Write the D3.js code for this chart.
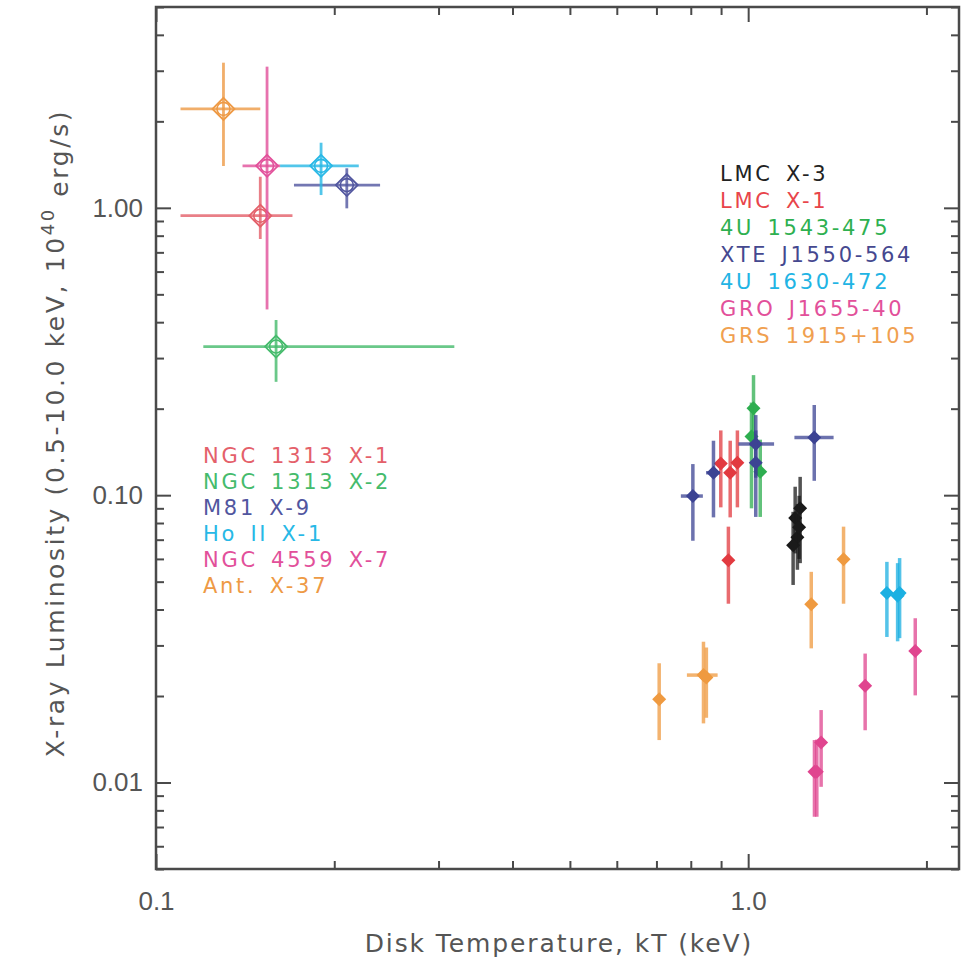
<!DOCTYPE html>
<html>
<head>
<meta charset="utf-8">
<script src="https://cdn.jsdelivr.net/npm/d3@7"></script>
<style>
  body { margin: 0; background: #fff; }
  text { font-family: "DejaVu Sans", sans-serif; }
</style>
</head>
<body>
<svg id="chart" width="963" height="957"></svg>
<script>
// ---- ULX sources (open symbols, upper left) ----
const ulxNames  = ["NGC 1313 X-1", "NGC 1313 X-2", "M81 X-9", "Ho II X-1", "NGC 4559 X-7", "Ant. X-37"];
const ulxColors = ["#e4606a", "#45bb6c", "#51569f", "#27b8e6", "#e2509a", "#ee9a45"];
const ulxKT     = [0.150, 0.1595, 0.210, 0.190, 0.154, 0.130];
const ulxKTlo   = [0.110, 0.1202, 0.171, 0.162, 0.140, 0.110];
const ulxKThi   = [0.170, 0.319, 0.239, 0.220, 0.162, 0.150];
const ulxLum    = [0.939, 0.329, 1.20, 1.40, 1.40, 2.21];
const ulxLumLo  = [0.779, 0.248, 0.996, 1.108, 0.443, 1.398];
const ulxLumHi  = [1.283, 0.407, 1.373, 1.685, 3.10, 3.20];

// ---- Galactic black holes (filled diamonds) ----
const galNames  = ["LMC X-3", "LMC X-1", "4U 1543-475", "XTE J1550-564", "4U 1630-472", "GRO J1655-40", "GRS 1915+105"];
const galColors = ["#1a1a1a", "#e23a40", "#2eae50", "#3c4393", "#1bb0e2", "#e0458f", "#ef9a40"];
const galSrc    = [0,0,0,0,0, 1,1,1,1, 2,2,2, 3,3,3,3,3, 4,4,4, 5,5,5,5,5, 6,6,6,6,6];
const galKT     = [1.224,1.2005,1.211,1.191,1.219, 0.899,0.9325,0.959,0.926, 1.021,1.013,1.048,
                   0.8065,0.8738,1.030,1.030,1.293, 1.715,1.802,1.788, 1.915,1.576,1.328,1.294,1.306,
                   1.278,1.449,0.7075,0.8405,0.850];
const galKTlo   = [1.224,1.2005,1.211,1.191,1.219, 0.899,0.9325,0.959,0.926, 1.021,1.013,1.048,
                   0.7697,0.849,0.963,1.030,1.197, 1.715,1.802,1.788, 1.915,1.576,1.328,1.294,1.306,
                   1.278,1.449,0.7075,0.788,0.850];
const galKThi   = [1.224,1.2005,1.211,1.191,1.219, 0.899,0.9325,0.959,0.926, 1.021,1.013,1.048,
                   0.8385,0.896,1.106,1.030,1.394, 1.715,1.802,1.788, 1.915,1.576,1.328,1.294,1.306,
                   1.278,1.449,0.7075,0.888,0.850];
const galLum    = [0.090,0.0832,0.0714,0.067,0.0774, 0.129,0.1197,0.1297,0.0594, 0.2005,0.160,0.1206,
                   0.0993,0.1197,0.1507,0.1297,0.1589, 0.0457,0.0457,0.0447, 0.0287,0.0217,0.01379,0.0109,0.0109,
                   0.0417,0.0598,0.0195,0.02365,0.0232];
const galLumLo  = [0.058,0.0627,0.055,0.0487,0.060, 0.0907,0.0837,0.0907,0.0419, 0.153,0.090,0.084,
                   0.0694,0.0837,0.115,0.084,0.1122, 0.0321,0.0318,0.031, 0.0201,0.0152,0.00966,0.0076,0.0076,
                   0.0293,0.0419,0.01405,0.01606,0.0168];
const galLumHi  = [0.1158,0.107,0.093,0.0875,0.0995, 0.168,0.1547,0.168,0.0777, 0.2617,0.21,0.156,
                   0.1283,0.1547,0.19,0.168,0.206, 0.0586,0.0604,0.058, 0.0373,0.0281,0.01787,0.01405,0.0141,
                   0.0541,0.0777,0.026,0.0309,0.0295];

// axis ticks
const xMajor = [0.1, 1.0];
const yMajor = [0.01, 0.1, 1];
const xLabels = ["0.1", "1.0"];
const yLabels = ["0.01", "0.10", "1.00"];

const width = 963, height = 957;
const margin = {left: 156, right: 4, top: 7, bottom: 88};

const svg = d3.select("#chart");

const x = d3.scaleLog()
  .domain([0.1, 2.27])
  .range([margin.left, width - margin.right]);
const y = d3.scaleLog()
  .domain([0.005, 5])
  .range([height - margin.bottom, margin.top]);

const x0 = x.range()[0], x1 = x.range()[1];
const y0 = y.range()[0], y1 = y.range()[1];

// minor + major ticks, all pointing inward
const xMinor = x.ticks().filter(t => !xMajor.some(m => Math.abs(m - t) < 1e-9));
const yMinor = y.ticks().filter(t => !yMajor.some(m => Math.abs(m - t) < 1e-9));

function addAxis(axisFn, scale, vals, size, tx, ty, labels) {
  const g = svg.append("g")
    .attr("transform", `translate(${tx},${ty})`)
    .call(axisFn(scale).tickValues(vals).tickSize(-size)
      .tickPadding(axisFn === d3.axisBottom ? 23 : 13)
      .tickFormat((d, i) => labels ? labels[i] : ""));
  g.select(".domain").remove();
  g.selectAll(".tick line").attr("stroke", "#4a4a4a").attr("stroke-width", 2);
  g.selectAll(".tick text")
    .attr("fill", "#555")
    .style("font-family", "'Liberation Sans', Arial, sans-serif")
    .style("font-size", "26px");
  return g;
}
addAxis(d3.axisBottom, x, xMinor, 8, 0, y0);
addAxis(d3.axisBottom, x, xMajor, 15, 0, y0, xLabels);
addAxis(d3.axisTop, x, xMinor, 8, 0, y1);
addAxis(d3.axisTop, x, xMajor, 15, 0, y1);
addAxis(d3.axisLeft, y, yMinor, 8, x0, 0);
addAxis(d3.axisLeft, y, yMajor, 15, x0, 0, yLabels);
addAxis(d3.axisRight, y, yMinor, 8, x1, 0);
addAxis(d3.axisRight, y, yMajor, 15, x1, 0);

// frame
svg.append("rect")
  .attr("x", x0).attr("y", y1)
  .attr("width", x1 - x0).attr("height", y0 - y1)
  .attr("fill", "none")
  .attr("stroke", "#4a4a4a")
  .attr("stroke-width", 2.5);

// axis titles
svg.append("text")
  .attr("x", 559)
  .attr("y", 952)
  .attr("text-anchor", "middle")
  .attr("fill", "#555")
  .style("font-size", "25px")
  .style("letter-spacing", "1.9px")
  .text("Disk Temperature, kT (keV)");

const yt = svg.append("text")
  .attr("transform", "translate(64,433) rotate(-90)")
  .attr("text-anchor", "middle")
  .attr("fill", "#555")
  .style("font-size", "25px")
  .style("letter-spacing", "2.6px");
yt.append("tspan").text("X-ray Luminosity (0.5-10.0 keV, 10");
yt.append("tspan").attr("dy", "-0.55em").style("font-size", "18px").text("40");
yt.append("tspan").attr("dy", "0.55em").text(" erg/s)");

const diamond = s => `M0,${-s}L${s},0L0,${s}L${-s},0Z`;

// ---- galactic sources ----
const gal = galSrc.map((s, i) => ({
  src: s, kt: galKT[i], ktLo: galKTlo[i], ktHi: galKThi[i],
  lum: galLum[i], lumLo: galLumLo[i], lumHi: galLumHi[i]
})).sort((a, b) => a.src - b.src);

const gg = svg.append("g");
gal.forEach(d => {
  const c = galColors[d.src];
  const g = gg.append("g");
  g.append("line")
    .attr("x1", x(d.kt)).attr("x2", x(d.kt))
    .attr("y1", y(d.lumLo)).attr("y2", y(d.lumHi))
    .attr("stroke", c).attr("stroke-width", 3.5).attr("opacity", 0.75);
  if (d.ktHi > d.ktLo) {
    g.append("line")
      .attr("x1", x(d.ktLo)).attr("x2", x(d.ktHi))
      .attr("y1", y(d.lum)).attr("y2", y(d.lum))
      .attr("stroke", c).attr("stroke-width", 3.5).attr("opacity", 0.75);
  }
  g.append("path")
    .attr("transform", `translate(${x(d.kt)},${y(d.lum)})`)
    .attr("d", diamond(7))
    .attr("fill", c);
});

// ---- ULX sources ----
const ulx = ulxNames.map((n, i) => ({
  name: n, color: ulxColors[i], kt: ulxKT[i], ktLo: ulxKTlo[i], ktHi: ulxKThi[i],
  lum: ulxLum[i], lumLo: ulxLumLo[i], lumHi: ulxLumHi[i]
}));

const ug = svg.append("g");
ulx.forEach(d => {
  const g = ug.append("g");
  g.append("line")
    .attr("x1", x(d.ktLo)).attr("x2", x(d.ktHi))
    .attr("y1", y(d.lum)).attr("y2", y(d.lum))
    .attr("stroke", d.color).attr("stroke-width", 2.8).attr("opacity", 0.8);
  g.append("line")
    .attr("x1", x(d.kt)).attr("x2", x(d.kt))
    .attr("y1", y(d.lumLo)).attr("y2", y(d.lumHi))
    .attr("stroke", d.color).attr("stroke-width", 2.8).attr("opacity", 0.8);
  g.append("path")
    .attr("transform", `translate(${x(d.kt)},${y(d.lum)})`)
    .attr("d", diamond(11))
    .attr("fill", "none").attr("stroke", d.color).attr("stroke-width", 1.8);
  g.append("circle")
    .attr("cx", x(d.kt)).attr("cy", y(d.lum)).attr("r", 6.5)
    .attr("fill", "none").attr("stroke", d.color).attr("stroke-width", 1.6);
});

// ---- legends ----
function legend(names, colors, lx, ly, step) {
  svg.append("g").selectAll("text")
    .data(names)
    .join("text")
    .attr("x", lx)
    .attr("y", (d, i) => ly + i * step)
    .attr("dy", "0.36em")
    .attr("fill", (d, i) => colors[i])
    .style("font-size", "21px")
    .style("letter-spacing", "2.7px")
    .style("word-spacing", "4px")
    .text(d => d);
}
legend(galNames, ["#222", "#e8444a", "#2eb050", "#45488f", "#22b4e4", "#e2509a", "#f0a050"], 720, 173, 27);
legend(ulxNames, ulxColors, 203, 455, 26);
</script>
</body>
</html>
